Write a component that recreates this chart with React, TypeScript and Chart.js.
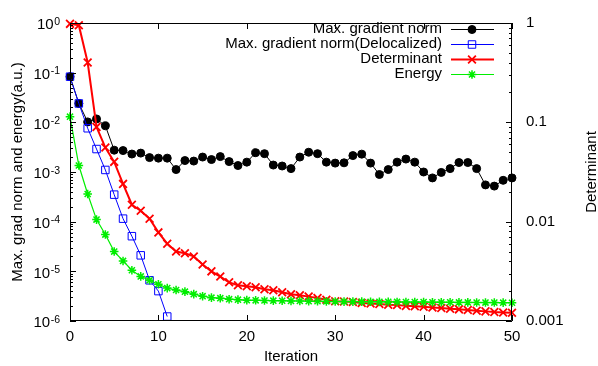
import { useEffect, useRef } from "react";
import { Chart, registerables } from "chart.js";
import { drawPoint } from "chart.js/helpers";

Chart.register(...registerables);

const iterations = [
  0, 1, 2, 3, 4, 5, 6, 7, 8, 9, 10, 11, 12, 13, 14, 15, 16, 17, 18, 19, 20,
  21, 22, 23, 24, 25, 26, 27, 28, 29, 30, 31, 32, 33, 34, 35, 36, 37, 38, 39,
  40, 41, 42, 43, 44, 45, 46, 47, 48, 49, 50,
];

const maxGradNorm = [
  0.083, 0.024, 0.0102, 0.0117, 0.0085, 0.00275, 0.0027, 0.0023, 0.0024,
  0.00195, 0.0019, 0.0019, 0.00112, 0.0017, 0.00166, 0.002, 0.00178, 0.00204,
  0.00162, 0.00135, 0.00158, 0.00245, 0.00234, 0.00138, 0.00132, 0.00117,
  0.002, 0.0025, 0.00234, 0.00158, 0.00151, 0.00153, 0.00214, 0.00229,
  0.00151, 0.00089, 0.00112, 0.00158, 0.00182, 0.00158, 0.001, 0.00076,
  0.00098, 0.00117, 0.00155, 0.00155, 0.00117, 0.00055, 0.00052, 0.00068,
  0.00076,
];

const maxGradNormDeloc = [
  0.083, 0.024, 0.0076, 0.0029, 0.0011, 0.00035, 0.000115, 5.1e-5, 2.1e-5,
  6.6e-6, 4.0e-6, 1.23e-6,
];

const determinant = [
  0.98, 0.95, 0.4, 0.09, 0.0557, 0.04, 0.024, 0.0148, 0.0129, 0.0107, 0.0078,
  0.006, 0.005, 0.0048, 0.00447, 0.0037, 0.00316, 0.0028, 0.00245, 0.00229,
  0.00224, 0.00219, 0.00209, 0.00204, 0.00195, 0.00186, 0.00182, 0.00176,
  0.0017, 0.00164, 0.00158, 0.00157, 0.00155, 0.00152, 0.0015, 0.00148,
  0.00146, 0.00145, 0.00142, 0.00141, 0.00139, 0.00137, 0.00135, 0.00133,
  0.00131, 0.00129, 0.00127, 0.00125, 0.00123, 0.00122, 0.00121,
];

const energy = [
  0.013, 0.00135, 0.00036, 0.00011, 5.5e-5, 2.5e-5, 1.62e-5, 1.05e-5, 7.9e-6,
  6.6e-6, 5.5e-6, 4.6e-6, 4.2e-6, 3.9e-6, 3.47e-6, 3.16e-6, 2.95e-6, 2.88e-6,
  2.75e-6, 2.69e-6, 2.63e-6, 2.61e-6, 2.59e-6, 2.57e-6, 2.56e-6, 2.54e-6,
  2.53e-6, 2.51e-6, 2.5e-6, 2.48e-6, 2.47e-6, 2.46e-6, 2.46e-6, 2.45e-6,
  2.44e-6, 2.43e-6, 2.43e-6, 2.42e-6, 2.41e-6, 2.41e-6, 2.4e-6, 2.39e-6,
  2.39e-6, 2.38e-6, 2.37e-6, 2.37e-6, 2.36e-6, 2.35e-6, 2.35e-6, 2.34e-6,
  2.33e-6,
];

const xTickValues = [0, 10, 20, 30, 40, 50];
const yTickExponents = [-6, -5, -4, -3, -2, -1, 0];
const y2TickValues = [0.001, 0.01, 0.1, 1];
const y2TickLabels = ["0.001", "0.01", "0.1", "1"];

const seriesNames = [
  "Max. gradient norm",
  "Max. gradient norm(Delocalized)",
  "Determinant",
  "Energy",
];
const xTitle = "Iteration";
const yTitle = "Max. grad norm and energy(a.u.)";
const y2Title = "Determinant";

const FONT = "'Liberation Sans', Arial, Helvetica, sans-serif";

const toPoints = (vals: number[]) => vals.map((v, i) => ({ x: iterations[i], y: v }));

const framePlugin = {
  id: "gnuplotFrame",
  afterDraw(chart: any) {
    const { ctx, chartArea } = chart;
    const { left, right, top, bottom } = chartArea;
    const sx = chart.scales.x;
    const sy = chart.scales.y;
    const sy2 = chart.scales.y2;
    ctx.save();
    ctx.strokeStyle = "#000";
    ctx.lineWidth = 1;
    ctx.beginPath();
    ctx.rect(left + 0.5, top + 0.5, right - left - 1, bottom - top - 1);
    ctx.stroke();

    const major = 6;
    const minor = 3;
    ctx.beginPath();
    xTickValues.forEach((v) => {
      const px = Math.round(sx.getPixelForValue(v)) + 0.5;
      ctx.moveTo(px, bottom);
      ctx.lineTo(px, bottom - major);
      ctx.moveTo(px, top);
      ctx.lineTo(px, top + major);
    });
    yTickExponents.forEach((e) => {
      const py = Math.round(sy.getPixelForValue(Math.pow(10, e))) + 0.5;
      ctx.moveTo(left, py);
      ctx.lineTo(left + major, py);
      if (e < 0) {
        for (let m = 2; m <= 9; m++) {
          const pm = Math.round(sy.getPixelForValue(m * Math.pow(10, e))) + 0.5;
          ctx.moveTo(left, pm);
          ctx.lineTo(left + minor, pm);
        }
      }
    });
    y2TickValues.forEach((v, idx) => {
      const py = Math.round(sy2.getPixelForValue(v)) + 0.5;
      ctx.moveTo(right, py);
      ctx.lineTo(right - major, py);
      if (idx < y2TickValues.length - 1) {
        for (let m = 2; m <= 9; m++) {
          const pm = Math.round(sy2.getPixelForValue(m * v)) + 0.5;
          ctx.moveTo(right, pm);
          ctx.lineTo(right - minor, pm);
        }
      }
    });
    ctx.stroke();

    // left tick labels: 10 with superscript exponent
    ctx.fillStyle = "#000";
    ctx.textAlign = "right";
    ctx.textBaseline = "alphabetic";
    const labelRight = 60;
    yTickExponents.forEach((e) => {
      const py = sy.getPixelForValue(Math.pow(10, e));
      const expText = String(e);
      ctx.font = `10.5px ${FONT}`;
      const w = ctx.measureText(expText).width;
      ctx.fillText(expText, labelRight, py + 1.5);
      ctx.font = `15px ${FONT}`;
      ctx.fillText("10", labelRight - w - 0.5, py + 6.3);
    });

    // right axis title (reads bottom to top)
    ctx.font = `15px ${FONT}`;
    ctx.save();
    ctx.translate(592, (top + bottom) / 2);
    ctx.rotate(-Math.PI / 2);
    ctx.textAlign = "center";
    ctx.textBaseline = "middle";
    ctx.fillText(y2Title, 0, 0);
    ctx.restore();

    // key (gnuplot style: text right, sample on right)
    const textRight = 442;
    const lineX0 = 451;
    const lineX1 = 494;
    const markX = 472;
    const rowY0 = 29;
    const rowStep = 15;
    chart.data.datasets.forEach((ds: any, i: number) => {
      const y = rowY0 + i * rowStep;
      ctx.fillStyle = "#000";
      ctx.textAlign = "right";
      ctx.textBaseline = "middle";
      ctx.font = `15px ${FONT}`;
      ctx.fillText(ds.label, textRight, y);
      ctx.strokeStyle = ds.borderColor;
      ctx.lineWidth = ds.borderWidth;
      ctx.beginPath();
      ctx.moveTo(lineX0, y + 0.5);
      ctx.lineTo(lineX1, y + 0.5);
      ctx.stroke();
      ctx.strokeStyle = ds.pointBorderColor;
      ctx.fillStyle = ds.pointBackgroundColor;
      ctx.lineWidth = ds.pointBorderWidth;
      drawPoint(ctx, {
        pointStyle: ds.pointStyle,
        radius: ds.pointRadius,
        rotation: 0,
        borderWidth: ds.pointBorderWidth,
      } as any, markX, y + 0.5);
    });
    ctx.restore();
  },
};

export default function App() {
  const ref = useRef<HTMLCanvasElement | null>(null);
  useEffect(() => {
    document.body.style.margin = "0";
    const canvas = ref.current;
    if (!canvas) return;
    Chart.defaults.font.family = FONT;
    Chart.defaults.font.size = 15;
    Chart.defaults.color = "#000";
    const chart = new Chart(canvas, {
      type: "line",
      data: {
        datasets: [
          {
            label: seriesNames[0],
            data: toPoints(maxGradNorm),
            yAxisID: "y",
            borderColor: "#000000",
            borderWidth: 1,
            pointStyle: "circle",
            pointRadius: 4,
            pointBorderWidth: 1,
            pointBorderColor: "#000000",
            pointBackgroundColor: "#000000",
            order: 4,
            clip: false,
          },
          {
            label: seriesNames[1],
            data: toPoints(maxGradNormDeloc),
            yAxisID: "y",
            borderColor: "#0000ff",
            borderWidth: 1,
            pointStyle: "rect",
            pointRadius: 5.3,
            pointBorderWidth: 1,
            pointBorderColor: "#0000ff",
            pointBackgroundColor: "rgba(0,0,0,0)",
            order: 3,
            clip: false,
          },
          {
            label: seriesNames[2],
            data: toPoints(determinant),
            yAxisID: "y2",
            borderColor: "#ff0000",
            borderWidth: 2,
            pointStyle: "crossRot",
            pointRadius: 5.5,
            pointBorderWidth: 1.8,
            pointBorderColor: "#ff0000",
            pointBackgroundColor: "#ff0000",
            order: 2,
            clip: false,
          },
          {
            label: seriesNames[3],
            data: toPoints(energy),
            yAxisID: "y",
            borderColor: "#00ee00",
            borderWidth: 1.2,
            pointStyle: "star",
            pointRadius: 4.3,
            pointBorderWidth: 1.5,
            pointBorderColor: "#00ee00",
            pointBackgroundColor: "#00ee00",
            order: 1,
            clip: false,
          },
        ] as any,
      },
      options: {
        responsive: false,
        animation: false,
        events: [],
        layout: { padding: { top: 14, left: 0, right: 0, bottom: 0 } },
        elements: { line: { tension: 0 } },
        plugins: {
          legend: { display: false },
          tooltip: { enabled: false },
        },
        scales: {
          x: {
            type: "linear",
            min: 0,
            max: 50,
            afterBuildTicks: (s: any) => {
              s.ticks = xTickValues.map((v) => ({ value: v }));
            },
            afterFit: (s: any) => {
              s.height = 45;
            },
            ticks: { padding: 7, maxRotation: 0, autoSkip: false, callback: (v: any) => String(v) },
            grid: { display: false, drawTicks: false },
            border: { display: false },
            title: { display: true, text: xTitle, padding: { top: 0, bottom: 0 } },
          },
          y: {
            type: "logarithmic",
            position: "left",
            min: 1e-6,
            max: 1,
            afterBuildTicks: (s: any) => {
              s.ticks = yTickExponents.map((e) => ({ value: Math.pow(10, e) }));
            },
            afterFit: (s: any) => {
              s.width = 70;
            },
            ticks: { display: false },
            grid: { display: false, drawTicks: false },
            border: { display: false },
            title: { display: true, text: yTitle, padding: { top: 9, bottom: 0 } },
          },
          y2: {
            type: "logarithmic",
            position: "right",
            min: 0.001,
            max: 1,
            afterBuildTicks: (s: any) => {
              s.ticks = y2TickValues.map((v) => ({ value: v }));
            },
            afterFit: (s: any) => {
              s.width = 86;
            },
            ticks: {
              padding: 14,
              autoSkip: false,
              callback: (v: any) => {
                const idx = y2TickValues.findIndex((t) => Math.abs(t - v) < t * 1e-6);
                return idx >= 0 ? y2TickLabels[idx] : "";
              },
            },
            grid: { display: false, drawTicks: false },
            border: { display: false },
          },
        },
      } as any,
      plugins: [framePlugin],
    });
    return () => chart.destroy();
  }, []);
  return (
    <div style={{ position: "absolute", left: 0, top: 0, width: 598, height: 366, background: "#fff" }}>
      <canvas ref={ref} width={598} height={366} style={{ display: "block" }} />
    </div>
  );
}
